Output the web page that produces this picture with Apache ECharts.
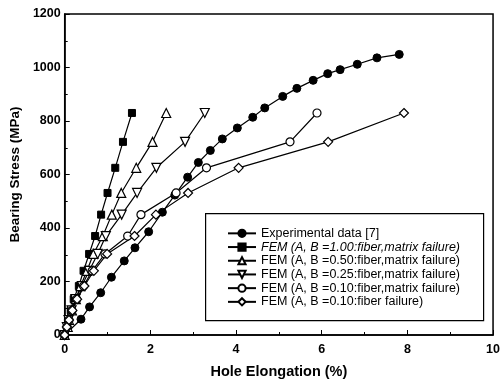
<!DOCTYPE html>
<html>
<head>
<meta charset="utf-8">
<script src="https://cdn.jsdelivr.net/npm/echarts@6/dist/echarts.min.js"></script>
<style>html,body{margin:0;padding:0;background:#fff}#c{width:503px;height:385px}</style>
</head>
<body>
<div id="c"></div>
<script>
var seriesNames = [
  'Experimental data [7]',
  'FEM (A, B =1.00:fiber,matrix failure)',
  'FEM (A, B =0.50:fiber,matrix failure)',
  'FEM (A, B =0.25:fiber,matrix failure)',
  'FEM (A, B =0.10:fiber,matrix failure)',
  'FEM (A, B =0.10:fiber failure)'
];
var expX = [0, 0.38, 0.58, 0.84, 1.09, 1.39, 1.64, 1.96, 2.28, 2.57, 2.87, 3.12, 3.40, 3.68, 4.03, 4.39, 4.67, 5.09, 5.42, 5.80, 6.14, 6.43, 6.83, 7.29, 7.81];
var expY = [0, 59, 105, 158, 216, 277, 326, 386, 459, 523, 590, 645, 690, 733, 774, 814, 849, 892, 922, 952, 977, 992, 1012, 1036, 1049];
var femLoads = [0, 30, 56, 92, 134, 183, 240, 303, 370, 450, 531, 625, 722, 830];
var fem100X = [0, 0.06, 0.08, 0.14, 0.21, 0.33, 0.44, 0.57, 0.71, 0.85, 1.00, 1.18, 1.36, 1.57];
var fem050X = [0, 0.07, 0.10, 0.17, 0.26, 0.37, 0.52, 0.67, 0.89, 1.10, 1.32, 1.67, 2.05, 2.37];
var fem025X = [0, 0.05, 0.09, 0.16, 0.25, 0.40, 0.57, 0.77, 0.96, 1.33, 1.69, 2.14, 2.81, 3.27];
var fem010X = [0, 0.05, 0.10, 0.17, 0.28, 0.44, 0.64, 0.94, 1.47, 1.78, 2.60, 3.31, 5.26, 5.89];
var fem010fX = [0, 0.05, 0.10, 0.18, 0.29, 0.46, 0.68, 0.99, 1.63, 2.13, 2.88, 4.06, 6.15, 7.92];
var xTicks = [0, 2, 4, 6, 8, 10];
var yTicks = [0, 200, 400, 600, 800, 1000, 1200];

function pairs(xs, ys) { return xs.map(function (x, i) { return [x, ys[i]]; }); }

var FONT = '"Liberation Sans", Arial, sans-serif';
var filled = { color: '#000', borderColor: '#000', borderWidth: 1 };
var hollow = { color: '#fff', borderColor: '#000', borderWidth: 1.2 };
var line = { color: '#000', width: 1.2 };

function mk(name, data, symbol, size, style, rot) {
  return {
    name: name, type: 'line', data: data, symbol: symbol, symbolSize: size,
    symbolRotate: rot || 0, showSymbol: true, itemStyle: style, lineStyle: line,
    animation: false, z: 3
  };
}

var chart = echarts.init(document.getElementById('c'), null, { renderer: 'canvas' });
chart.setOption({
  backgroundColor: '#fff',
  animation: false,
  grid: { left: 64, right: 3, top: 14, bottom: 50, show: true, borderColor: '#000', borderWidth: 1.5, backgroundColor: 'transparent' },
  xAxis: {
    type: 'value', min: 0, max: 10, interval: 2,
    name: 'Hole Elongation (%)', nameLocation: 'middle', nameGap: 29,
    nameTextStyle: { fontFamily: FONT, fontWeight: 'bold', fontSize: 14.5, color: '#000' },
    axisLine: { lineStyle: { color: '#000', width: 1.5 } },
    axisTick: { inside: true, length: 5, lineStyle: { color: '#000' } },
    minorTick: { show: true, splitNumber: 2, length: 3, lineStyle: { color: '#000' } },
    splitLine: { show: false },
    axisLabel: { fontFamily: FONT, fontWeight: 'bold', fontSize: 12.5, color: '#000', margin: 8,
      formatter: function (v) { return xTicks.indexOf(v) >= 0 ? String(v) : ''; } }
  },
  yAxis: {
    type: 'value', min: 0, max: 1200, interval: 200,
    name: 'Bearing Stress (MPa)', nameLocation: 'middle', nameGap: 39,
    nameTextStyle: { fontFamily: FONT, fontWeight: 'bold', fontSize: 13.5, color: '#000' },
    axisLine: { show: true, lineStyle: { color: '#000', width: 1.5 } },
    axisTick: { show: true, inside: true, length: 5, lineStyle: { color: '#000' } },
    minorTick: { show: true, splitNumber: 2, length: 3, lineStyle: { color: '#000' } },
    splitLine: { show: false },
    axisLabel: { fontFamily: FONT, fontWeight: 'bold', fontSize: 12.5, color: '#000', margin: 4,
      formatter: function (v) { return yTicks.indexOf(v) >= 0 ? String(v) : ''; } }
  },
  legend: {
    orient: 'vertical', left: 227, top: 226.5,
    itemWidth: 28, itemHeight: 9, itemGap: 0,
    padding: 0,
    textStyle: { fontFamily: FONT, fontSize: 12.5, lineHeight: 13.7, height: 13.7, color: '#000' },
    data: seriesNames.map(function (n, i) {
      return i === 1 ? { name: n, textStyle: { fontStyle: 'italic' } } : { name: n };
    })
  },
  graphic: [{
    type: 'rect', left: 205, top: 213, z: 1,
    shape: { width: 278, height: 107 },
    style: { fill: '#fff', stroke: '#000', lineWidth: 1.2 }
  }],
  series: [
    mk(seriesNames[0], pairs(expX, expY), 'circle', 8, filled),
    mk(seriesNames[1], pairs(fem100X, femLoads), 'rect', 7, filled),
    mk(seriesNames[2], pairs(fem050X, femLoads), 'triangle', 9, hollow),
    mk(seriesNames[3], pairs(fem025X, femLoads), 'triangle', 9, hollow, 180),
    mk(seriesNames[4], pairs(fem010X, femLoads), 'circle', 8, hollow),
    mk(seriesNames[5], pairs(fem010fX, femLoads), 'diamond', 9, hollow)
  ]
});
</script>
</body>
</html>
